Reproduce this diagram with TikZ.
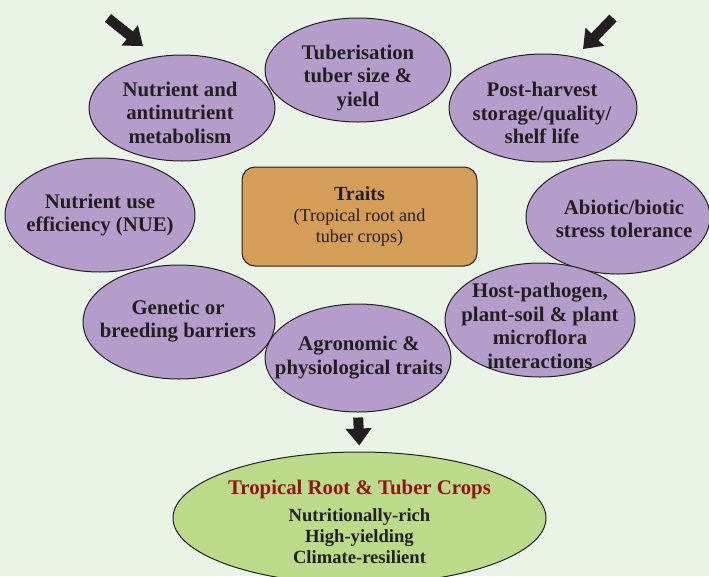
\documentclass[tikz,border=0pt]{standalone}
\usepackage{fontspec}
\setmainfont{Liberation Serif}
\usetikzlibrary{shapes.geometric,arrows.meta}
\definecolor{bg}{HTML}{E9F4E7}
\definecolor{purp}{HTML}{B59DCB}
\definecolor{orng}{HTML}{D49E58}
\definecolor{grn}{HTML}{BCDB8A}
\definecolor{ink}{HTML}{231F20}
\definecolor{darkred}{HTML}{8E1616}
\begin{document}
\begin{tikzpicture}[x=1pt,y=-1pt,
  trait/.style={ellipse, draw=ink, line width=1pt, fill=purp, inner sep=0pt},
  traittext/.style={align=center, text=ink, inner sep=0pt,
    font=\fontsize{20.8}{23.5}\selectfont\bfseries},
  bigarrow/.style={ink, line width=10pt, -{Triangle[width=25pt,length=17pt]}},
  centre/.style={draw=ink, line width=1pt, fill=orng, rounded corners=13pt,
    inner sep=0pt, minimum width=235pt, minimum height=99pt, align=center,
    text=ink, font=\fontsize{18.2}{21}\selectfont},
  goal/.style={ellipse, draw=ink, line width=1pt, fill=grn, inner sep=0pt,
    minimum width=373pt, minimum height=132pt},
  goaltext/.style={align=center, text=ink, inner sep=0pt,
    font=\fontsize{18.6}{21}\selectfont\bfseries}]
\useasboundingbox (0,0) rectangle (709,576);
\clip (0,0) rectangle (709,576);
\fill[bg] (0,0) rectangle (709,576);

\node[trait, minimum width=186pt, minimum height=104pt] (tub) at (358,70) {};
\node[traittext] (tubt) at (358,78) {Tuberisation\\tuber size \&\\yield};
\node[trait, minimum width=186pt, minimum height=106pt] (nut) at (182,108) {};
\node[traittext] (nutt) at (180,112.5) {Nutrient and\\antinutrient\\metabolism};
\node[trait, minimum width=188pt, minimum height=108pt] (post) at (543,108) {};
\node[traittext] (postt) at (542,113) {Post-harvest\\storage/quality/\\shelf life};
\node[trait, minimum width=190pt, minimum height=114pt] (nue) at (100,215) {};
\node[traittext] (nuet) at (100,215) {Nutrient use\\efficiency (NUE)};
\node[trait, minimum width=184pt, minimum height=114pt] (abio) at (618,217) {};
\node[traittext] (abiot) at (624,219) {Abiotic/biotic\\stress tolerance};
\node[trait, minimum width=192pt, minimum height=114pt] (gen) at (179,322) {};
\node[traittext] (gent) at (178,321) {Genetic or\\breeding barriers};
\node[trait, minimum width=190pt, minimum height=114pt] (host) at (540,320) {};
\node[traittext] (hostt) at (540,326) {Host-pathogen,\\plant-soil \& plant\\microflora\\interactions};
\node[trait, minimum width=186pt, minimum height=108pt] (agro) at (358,358) {};
\node[traittext] (agrot) at (359,357.5) {Agronomic \&\\physiological traits};

\node[centre] (traits) at (359.5,216.5)
  {{\fontsize{20}{21}\selectfont\bfseries Traits}\\(Tropical root and\\tuber crops)};

\node[goal] (crops) at (359.5,518) {};
\node[goaltext] (cropst) at (359.5,522)
  {{\color{darkred}\fontsize{20.8}{21}\selectfont Tropical Root \& Tuber Crops}\\[6pt]
   Nutritionally-rich\\High-yielding\\Climate-resilient};

\coordinate (tl) at (108,18);
\coordinate (tltip) at (143,46);
\coordinate (tr) at (613,18);
\coordinate (trtip) at (583,49);
\draw[bigarrow] (tl) -- (tltip);
\draw[bigarrow] (tr) -- (trtip);
\draw[bigarrow, shorten <=5pt, shorten >=6pt] (agro.south) -- (crops.north);
\end{tikzpicture}
\end{document}
